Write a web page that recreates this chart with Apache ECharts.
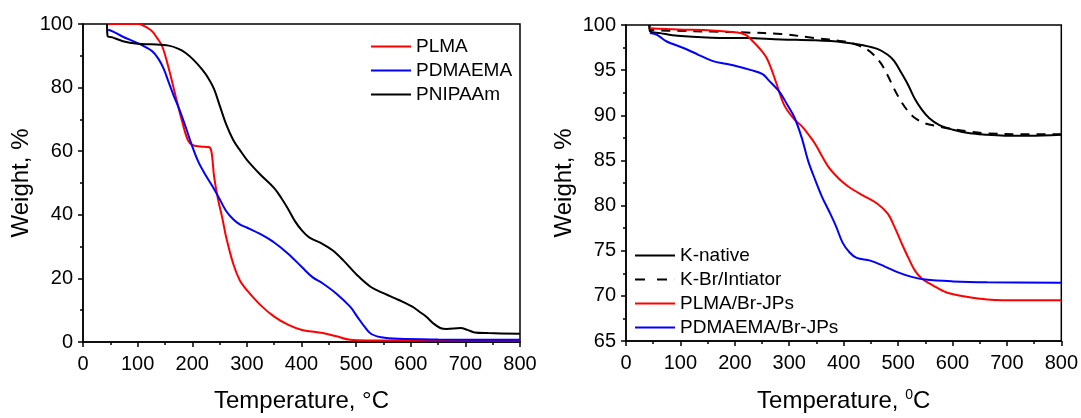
<!DOCTYPE html>
<html>
<head>
<meta charset="utf-8">
<script src="https://cdn.jsdelivr.net/npm/echarts@6/dist/echarts.min.js"></script>
<style>
  html, body { margin: 0; padding: 0; background: #fff; }
  #chart { width: 1081px; height: 418px; }
</style>
</head>
<body>
<div id="chart"></div>
<script>
// left panel: homopolymers
const plmaT = [44, 70, 100, 124, 136, 145, 157, 170, 182, 192, 200, 215, 230, 235, 240, 247, 255, 262, 275, 287, 300, 325, 350, 376, 401, 439, 464, 489, 520, 600, 700, 800];
const plmaW = [100, 100, 100, 98.1, 95.5, 93, 86, 77, 69, 63.5, 62, 61.5, 61.3, 60, 52, 45, 39, 33, 24.6, 19.4, 16.3, 11.6, 8, 5.4, 3.8, 2.8, 1.8, 0.7, 0.5, 0.5, 0.5, 0.5];

const pdmaT = [46, 54, 73, 100, 127, 139, 148, 157, 166, 176, 188, 199, 211, 224, 237, 249, 262, 275, 287, 300, 325, 350, 376, 401, 420, 439, 464, 489, 502, 515, 527, 546, 578, 650, 800];
const pdmaW = [98.2, 97.7, 96, 94, 91.4, 88.8, 85.8, 81.6, 77.5, 73.3, 67.6, 62, 56.7, 52.6, 49, 45.3, 41.2, 38.6, 37, 36, 33.9, 31.3, 27.7, 23.5, 20.4, 18.4, 15.2, 11.1, 8, 4.9, 2.6, 1.5, 1, 0.8, 0.7];

const pnipT = [44, 45, 54, 73, 100, 125, 157, 175, 188, 202, 218, 230, 240, 250, 262, 275, 287, 300, 325, 350, 363, 376, 388, 401, 414, 439, 458, 477, 502, 527, 552, 578, 603, 616, 628, 641, 654, 666, 691, 704, 717, 742, 800];
const pnipW = [100, 96.2, 95.8, 94.6, 93.8, 93.6, 93.2, 92.2, 90.9, 88.8, 85.7, 82.8, 79.5, 74.5, 68.5, 63.5, 60.4, 57.3, 52.6, 48.4, 45.3, 41.7, 38, 35, 32.9, 30.8, 28.7, 25.6, 21, 17.3, 15.2, 13.2, 11.1, 9.5, 8, 5.9, 4.4, 4.1, 4.4, 3.8, 3, 2.8, 2.6];

// right panel: Janus particles
const knT = [43, 44, 63, 95, 158, 221, 285, 348, 398, 436, 462, 481, 493, 506, 519, 531, 544, 557, 576, 601, 632, 664, 702, 740, 800];
const knW = [100, 99.3, 99.1, 98.8, 98.6, 98.55, 98.4, 98.3, 98.1, 97.75, 97.35, 96.7, 96, 94.7, 93.3, 91.8, 90.6, 89.7, 88.9, 88.4, 88, 87.85, 87.74, 87.74, 87.85];

const kbrT = [43, 44, 95, 158, 221, 285, 348, 398, 424, 443, 455, 468, 481, 493, 506, 519, 531, 550, 576, 601, 632, 664, 727, 800];
const kbrW = [100, 99.5, 99.35, 99.27, 99.17, 99, 98.55, 98.2, 97.8, 97.3, 96.7, 95.8, 94.4, 92.9, 91.5, 90.4, 89.7, 89.1, 88.75, 88.47, 88.2, 88.0, 87.9, 87.9];

const plmaJT = [44, 95, 158, 205, 220, 233, 247, 257, 266, 276, 291, 310, 323, 335, 348, 360, 373, 386, 398, 411, 436, 462, 481, 493, 506, 519, 531, 544, 563, 588, 626, 664, 727, 800];
const plmaJW = [99.64, 99.5, 99.4, 99.16, 98.9, 98.2, 97.3, 96.5, 95.3, 93.6, 91.1, 89.5, 88.8, 87.9, 86.8, 85.5, 84.2, 83.3, 82.6, 82, 81.1, 80.2, 79.1, 77.7, 75.9, 74.2, 72.8, 71.9, 71.2, 70.4, 69.9, 69.6, 69.5, 69.5];

const pdmaJT = [44, 57, 74, 108, 133, 160, 183, 202, 230, 251, 262, 282, 297, 310, 323, 335, 348, 360, 373, 386, 398, 411, 424, 449, 474, 500, 525, 550, 601, 664, 800];
const pdmaJW = [99.1, 98.9, 98.2, 97.4, 96.7, 96, 95.7, 95.46, 95.0, 94.56, 93.9, 92.6, 91.1, 89.7, 87.5, 84.9, 82.8, 81, 79.4, 77.7, 75.9, 74.8, 74.2, 73.9, 73.3, 72.6, 72.1, 71.8, 71.6, 71.5, 71.45];

const xTicks = [0, 800, 100];
const leftY = [0, 100, 20];
const rightY = [65, 100, 5];

const font = '"Liberation Sans", Arial, sans-serif';
const zip = (xs, ys) => xs.map((x, i) => [x, ys[i]]);

// legend glyphs: plain bar and two-dash bar
const solidIcon = 'path://M0,0h40v2h-40z';
const dashIcon = 'path://M0,0h10v2h-10z M22,0h10v2h-10z M39.9,0h0.1v2h-0.1z';

function xAxis(idx, name) {
  return {
    type: 'value', gridIndex: idx,
    min: xTicks[0], max: xTicks[1], interval: xTicks[2],
    name: name, nameLocation: 'middle', nameGap: 47,
    nameTextStyle: {
      fontSize: 24, color: '#000', fontFamily: font,
      rich: { sup: { fontSize: 14, color: '#000', fontFamily: font, padding: [0, 0, 12, 0] } }
    },
    axisLine: { lineStyle: { color: '#000', width: 1.5 } },
    axisTick: { length: 5, lineStyle: { color: '#000', width: 1.5 } },
    minorTick: { show: true, splitNumber: 2, length: 3, lineStyle: { color: '#000', width: 1.5 } },
    axisLabel: { fontSize: 20, color: '#000', fontFamily: font, margin: 12 },
    splitLine: { show: false }
  };
}

function yAxis(idx, t) {
  return {
    type: 'value', gridIndex: idx,
    min: t[0], max: t[1], interval: t[2],
    name: 'Weight, %', nameLocation: 'middle', nameGap: 50,
    nameTextStyle: { fontSize: 24, color: '#000', fontFamily: font },
    axisLine: { show: true, lineStyle: { color: '#000', width: 1.5 } },
    axisTick: { show: true, length: 5, lineStyle: { color: '#000', width: 1.5 } },
    minorTick: { show: true, splitNumber: 2, length: 3, lineStyle: { color: '#000', width: 1.5 } },
    axisLabel: { fontSize: 20, color: '#000', fontFamily: font, margin: 10 },
    splitLine: { show: false }
  };
}

function line(name, idx, data, color, type) {
  return {
    name: name, type: 'line', xAxisIndex: idx, yAxisIndex: idx,
    data: data, symbol: 'none', showSymbol: false, smooth: 0.35,
    lineStyle: { color: color, width: 2, type: type || 'solid' },
    itemStyle: { color: color },
    animation: false
  };
}

function legend(names, icons, left, top) {
  return {
    data: names.map((n, i) => ({ name: n, icon: icons[i] })),
    orient: 'vertical', left: left, top: top, padding: 0,
    itemWidth: 40, itemHeight: 2, itemGap: 5,
    textStyle: { fontSize: 19, color: '#000', fontFamily: font, lineHeight: 19 }
  };
}

const chart = echarts.init(document.getElementById('chart'));
chart.setOption({
  animation: false,
  grid: [
    { left: 83, right: 561, top: 24, bottom: 72, show: true, borderColor: '#000', borderWidth: 1.5 },
    { left: 626, right: 19, top: 25, bottom: 71, show: true, borderColor: '#000', borderWidth: 1.5 }
  ],
  xAxis: [xAxis(0, 'Temperature, °C'), xAxis(1, 'Temperature, {sup|0}C')],
  yAxis: [yAxis(0, leftY), yAxis(1, rightY)],
  legend: [
    legend(['PLMA', 'PDMAEMA', 'PNIPAAm'], [solidIcon, solidIcon, solidIcon], 371, 37),
    legend(['K-native', 'K-Br/Intiator', 'PLMA/Br-JPs', 'PDMAEMA/Br-JPs'],
      [solidIcon, dashIcon, solidIcon, solidIcon], 635, 246)
  ],
  series: [
    line('PLMA', 0, zip(plmaT, plmaW), '#ff0000'),
    line('PDMAEMA', 0, zip(pdmaT, pdmaW), '#0000ff'),
    line('PNIPAAm', 0, zip(pnipT, pnipW), '#000000'),
    line('K-native', 1, zip(knT, knW), '#000000'),
    line('K-Br/Intiator', 1, zip(kbrT, kbrW), '#000000', [9, 7]),
    line('PLMA/Br-JPs', 1, zip(plmaJT, plmaJW), '#ff0000'),
    line('PDMAEMA/Br-JPs', 1, zip(pdmaJT, pdmaJW), '#0000ff')
  ]
});
</script>
</body>
</html>
